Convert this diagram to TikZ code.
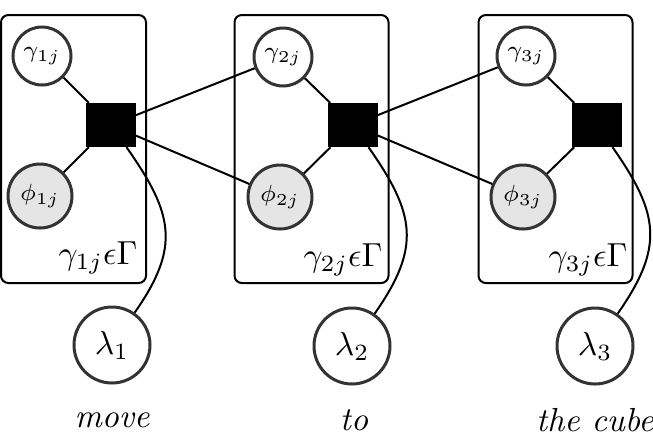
\documentclass[tikz,border=0pt]{standalone}
\usepackage{tikz}

\begin{document}
\begin{tikzpicture}[
x=0.3pt, y=-0.3pt,
latent/.style={circle, draw=black!80, line width=0.9pt, inner sep=0pt, minimum size=17.4pt, font=\scriptsize},
observed/.style={latent, fill=black!10, minimum size=19.2pt},
lexical/.style={latent, minimum size=22.8pt, font=\normalsize},
factor/.style={rectangle, draw, fill=black, inner sep=0pt, minimum width=14.4pt, minimum height=12.9pt},
plate/.style={rectangle, draw, rounded corners=2.2pt, line width=0.6pt, minimum height=80.4pt},
edge/.style={line width=0.6pt},
word/.style={font=\itshape}
]
\useasboundingbox (0,0) rectangle (653,441);

% plates
\node (plate1) [plate, minimum width=43.5pt] at (73.5,149) {};
\node (plate2) [plate, minimum width=46.2pt] at (311.5,149) {};
\node (plate3) [plate, minimum width=46.2pt] at (555.5,149) {};
\node (cond1) at (98,258) {$\gamma_{1j}\epsilon\Gamma$};
\node (cond2) at (343,260) {$\gamma_{2j}\epsilon\Gamma$};
\node (cond3) at (588,260) {$\gamma_{3j}\epsilon\Gamma$};

% variables and factors
\node (g1) [latent] at (42,56) {$\gamma_{1j}$};
\node (g2) [latent] at (283,57) {$\gamma_{2j}$};
\node (g3) [latent] at (526,56) {$\gamma_{3j}$};
\node (f1) [factor] at (111,125) {};
\node (f2) [factor] at (353,125) {};
\node (f3) [factor] at (597,125) {};
\node (p1) [observed] at (40,196) {$\phi_{1j}$};
\node (p2) [observed] at (280,197) {$\phi_{2j}$};
\node (p3) [observed] at (523,197) {$\phi_{3j}$};
\node (l1) [lexical] at (112,345) {$\lambda_1$};
\node (l2) [lexical] at (352,346) {$\lambda_2$};
\node (l3) [lexical] at (595,346) {$\lambda_3$};
\node (w1) [word] at (112,420) {move};
\node (w2) [word] at (354,420) {to};
\node (w3) [word] at (595,420) {the cube};

\draw [edge] (g1) -- (f1);
\draw [edge] (p1) -- (f1);
\draw [edge] (g2) -- (f2);
\draw [edge] (p2) -- (f2);
\draw [edge] (g3) -- (f3);
\draw [edge] (p3) -- (f3);
\draw [edge] (f1) -- (g2);
\draw [edge] (f1) -- (p2);
\draw [edge] (f2) -- (g3);
\draw [edge] (f2) -- (p3);
\draw [edge] (f1) to[out=-55, in=55, looseness=1.25] (l1);
\draw [edge] (f2) to[out=-55, in=55, looseness=1.25] (l2);
\draw [edge] (f3) to[out=-55, in=55, looseness=1.25] (l3);
\end{tikzpicture}
\end{document}
